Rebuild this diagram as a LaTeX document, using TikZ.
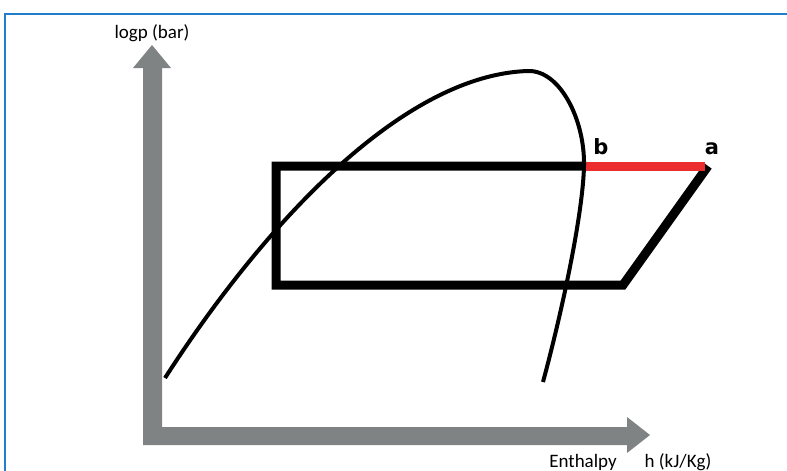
\documentclass[tikz,border=0pt]{standalone}
\usepackage{fontspec}
\setmainfont{Carlito}
\newfontfamily\labelfont{DejaVu Sans}
\usetikzlibrary{positioning}

\definecolor{axisgray}{RGB}{128,131,131}
\definecolor{frameblue}{RGB}{35,125,205}
\definecolor{linered}{RGB}{236,45,45}

\begin{document}
\begin{tikzpicture}[x=1pt, y=-1pt,
        axis/.style={fill=axisgray},
        cycleline/.style={line width=9pt, line join=miter},
        dome/.style={line width=4pt},
        axlabel/.style={font=\fontsize{19}{21}\selectfont, inner sep=0pt},
        ptlabel/.style={font=\labelfont\bfseries\fontsize{21}{23}\selectfont, inner sep=0pt, anchor=south}]

        \useasboundingbox (0,0) rectangle (787,471);

        % Frame
        \draw[frameblue, line width=2pt] (5,471) -- (5,14) -- (787,14);

        % Axes
        \fill[axis] (143,445) -- (143,68) -- (133,68) -- (152,45) -- (171,68) -- (162,68)
            -- (162,427) -- (627,427) -- (627,417) -- (650,435) -- (627,453) -- (627,445) -- cycle;
        \node[axlabel] (ylab) at (152,33) {logp (bar)};
        \node[axlabel] (xlab) at (583,462) {Enthalpy};
        \node[axlabel] (xunit) at (678,462) {h (kJ/Kg)};

        % Cycle
        \coordinate (b) at (584,166);
        \coordinate (a) at (708,166);
        \coordinate (tl) at (276,166);
        \coordinate (bl) at (276,285);
        \coordinate (br) at (623,285);
        \draw[cycleline] (b) -- (tl) -- (bl) -- (br) -- (a);
        \draw[cycleline, linered] (b) -- ([xshift=-3pt]a);
        \node[ptlabel] (lb) at (601,155) {b};
        \node[ptlabel] (la) at (712,155) {a};

        % Saturation dome
        \coordinate (top) at (528,71);
        \draw[dome] (165,378) .. controls (260,230) and (400,75) .. (top)
            .. controls (560,70) and (585,120) .. (b)
            .. controls (583,210) and (565,300) .. (543,382);
    \end{tikzpicture}
\end{document}
